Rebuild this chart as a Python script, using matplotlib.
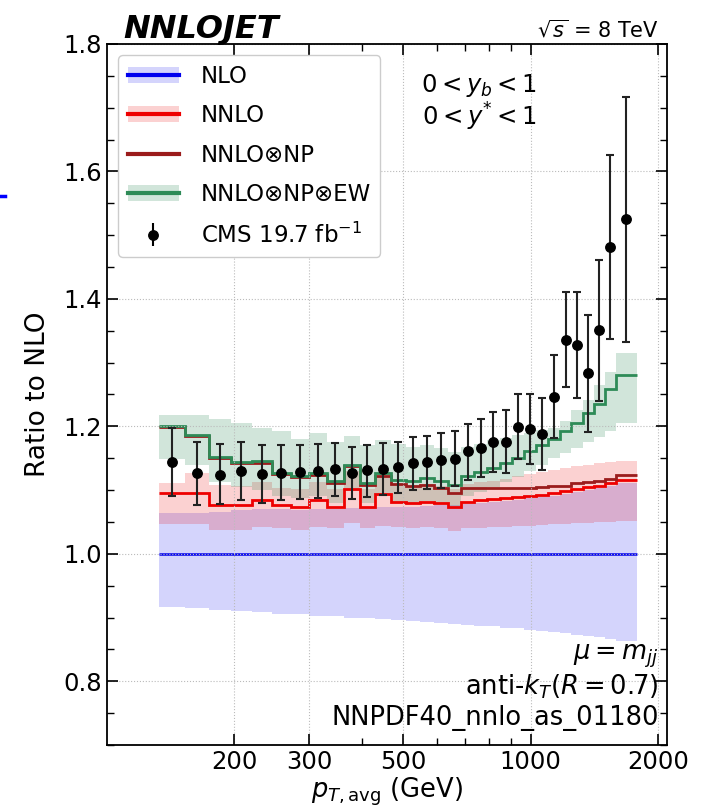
import numpy as np
import matplotlib
matplotlib.use('Agg')
import matplotlib.pyplot as plt
from matplotlib.lines import Line2D
from matplotlib.patches import Patch
from matplotlib.ticker import FixedLocator, NullFormatter, MultipleLocator

# pT,avg bin edges (GeV), 0 < yb < 1, 0 < y* < 1
edges = [133, 153, 174, 196, 220, 245, 272, 300, 330, 362, 395, 430, 468, 507, 548,
         592, 638, 686, 737, 790, 846, 905, 967, 1032, 1101, 1172, 1248, 1327, 1410,
         1497, 1588, 1784]

# NLO scale band (ratio to NLO central)
nlo_lo = [0.917, 0.915, 0.912, 0.910, 0.908, 0.906, 0.905, 0.903, 0.902, 0.900, 0.899,
          0.897, 0.896, 0.895, 0.893, 0.892, 0.890, 0.889, 0.887, 0.886, 0.884, 0.883,
          0.881, 0.879, 0.877, 0.875, 0.873, 0.871, 0.869, 0.866, 0.863]
nlo_hi = [1.064, 1.064, 1.066, 1.068, 1.070, 1.070, 1.069, 1.070, 1.071, 1.072, 1.072,
          1.073, 1.074, 1.074, 1.075, 1.076, 1.077, 1.078, 1.079, 1.081, 1.083, 1.085,
          1.087, 1.089, 1.091, 1.094, 1.097, 1.100, 1.103, 1.107, 1.111]

# NNLO
nnlo = [1.095, 1.096, 1.076, 1.076, 1.085, 1.076, 1.074, 1.084, 1.073, 1.102, 1.074,
        1.094, 1.082, 1.079, 1.082, 1.079, 1.073, 1.082, 1.084, 1.086, 1.088, 1.089,
        1.090, 1.093, 1.096, 1.098, 1.102, 1.105, 1.107, 1.111, 1.116]
nnlo_lo = [1.046, 1.046, 1.038, 1.038, 1.042, 1.040, 1.038, 1.042, 1.040, 1.048, 1.040,
           1.044, 1.042, 1.040, 1.042, 1.040, 1.036, 1.040, 1.041, 1.042, 1.042, 1.043,
           1.044, 1.045, 1.046, 1.047, 1.048, 1.049, 1.050, 1.050, 1.051]
nnlo_hi = [1.111, 1.126, 1.108, 1.106, 1.113, 1.104, 1.102, 1.112, 1.101, 1.130, 1.102,
           1.121, 1.110, 1.107, 1.110, 1.107, 1.101, 1.110, 1.112, 1.114, 1.117, 1.122,
           1.125, 1.128, 1.132, 1.135, 1.137, 1.140, 1.142, 1.144, 1.145]

# NNLO x NP
nnlo_np = [1.199, 1.185, 1.150, 1.142, 1.143, 1.125, 1.120, 1.123, 1.111, 1.137, 1.108,
           1.122, 1.110, 1.106, 1.108, 1.103, 1.096, 1.104, 1.104, 1.104, 1.104, 1.104,
           1.104, 1.105, 1.106, 1.107, 1.111, 1.113, 1.114, 1.118, 1.123]

# NNLO x NP x EW
nnlo_np_ew = [1.201, 1.187, 1.152, 1.144, 1.145, 1.127, 1.122, 1.126, 1.114, 1.140, 1.111,
              1.126, 1.116, 1.114, 1.119, 1.114, 1.108, 1.122, 1.128, 1.135, 1.143, 1.150,
              1.161, 1.171, 1.180, 1.192, 1.205, 1.221, 1.235, 1.258, 1.281]
ew_lo = [1.148, 1.140, 1.112, 1.105, 1.100, 1.090, 1.087, 1.090, 1.080, 1.100, 1.080,
         1.090, 1.082, 1.080, 1.083, 1.080, 1.075, 1.090, 1.097, 1.105, 1.113, 1.120,
         1.130, 1.140, 1.150, 1.158, 1.166, 1.175, 1.183, 1.192, 1.205]
ew_hi = [1.218, 1.218, 1.212, 1.205, 1.197, 1.192, 1.180, 1.190, 1.175, 1.185, 1.170,
         1.178, 1.172, 1.168, 1.170, 1.166, 1.160, 1.168, 1.172, 1.178, 1.182, 1.186,
         1.190, 1.194, 1.197, 1.208, 1.226, 1.242, 1.265, 1.286, 1.315]

# CMS 19.7 fb^-1 data (ratio to NLO) with total uncertainty
data_val = [1.144, 1.127, 1.124, 1.130, 1.125, 1.127, 1.128, 1.130, 1.133, 1.127, 1.131,
            1.133, 1.136, 1.142, 1.144, 1.147, 1.149, 1.161, 1.166, 1.175, 1.175, 1.199,
            1.196, 1.188, 1.246, 1.336, 1.328, 1.283, 1.351, 1.481, 1.525]
data_lo = [1.090, 1.077, 1.078, 1.085, 1.080, 1.084, 1.086, 1.088, 1.091, 1.086, 1.089,
           1.093, 1.095, 1.100, 1.102, 1.104, 1.106, 1.116, 1.120, 1.128, 1.126, 1.148,
           1.141, 1.131, 1.182, 1.261, 1.245, 1.191, 1.239, 1.337, 1.333]
data_hi = [1.197, 1.176, 1.172, 1.175, 1.170, 1.170, 1.170, 1.172, 1.174, 1.168, 1.171,
           1.174, 1.176, 1.184, 1.185, 1.190, 1.192, 1.204, 1.212, 1.223, 1.225, 1.251,
           1.250, 1.245, 1.312, 1.411, 1.411, 1.375, 1.461, 1.626, 1.717]

x_ticks = [200, 300, 500, 1000, 2000]
x_minor = [400, 600, 700, 800, 900]

C_NLO = '#0000ee'
C_NNLO = '#ee0000'
C_NP = '#9b1c1c'
C_EW = '#2e8b57'

plt.rcParams['font.family'] = 'DejaVu Sans'
plt.rcParams['mathtext.fontset'] = 'dejavusans'

fig = plt.figure(figsize=(7.03, 8.11), dpi=100)
ax = fig.add_axes([0.1522, 0.0814, 0.7966, 0.8644])

edges_a = np.array(edges, dtype=float)
centers = np.sqrt(edges_a[:-1] * edges_a[1:])
ones = np.ones(len(nnlo))

# bands
ax.stairs(nlo_hi, edges, baseline=nlo_lo, fill=True, color=C_NLO, alpha=0.17, lw=0)
ax.stairs(nnlo_hi, edges, baseline=nnlo_lo, fill=True, color=C_NNLO, alpha=0.18, lw=0)
ax.stairs(ew_hi, edges, baseline=ew_lo, fill=True, color=C_EW, alpha=0.22, lw=0)

# central lines
ax.stairs(ones, edges, color=C_NLO, lw=1.8, baseline=None)
ax.stairs(nnlo, edges, color=C_NNLO, lw=2.0, baseline=None)
ax.stairs(nnlo_np, edges, color=C_NP, lw=2.0, baseline=None)
ax.stairs(nnlo_np_ew, edges, color=C_EW, lw=2.0, baseline=None)

# data
d = np.array(data_val)
yerr = [d - np.array(data_lo), np.array(data_hi) - d]
ax.errorbar(centers, d, yerr=yerr, fmt='o', color='black', ecolor='#222222',
            markersize=6.8, elinewidth=1.5, capsize=3, capthick=1.5, zorder=5)

ax.set_xscale('log')
ax.set_xlim(100, 2100)
ax.set_ylim(0.7, 1.8)
ax.xaxis.set_major_locator(FixedLocator(x_ticks))
ax.xaxis.set_minor_locator(FixedLocator(x_minor))
ax.xaxis.set_minor_formatter(NullFormatter())
ax.set_xticklabels([str(t) for t in x_ticks])
ax.yaxis.set_major_locator(MultipleLocator(0.2))
ax.yaxis.set_minor_locator(MultipleLocator(0.05))
ax.tick_params(which='both', direction='in', top=True, right=True, labelsize=17.5)
ax.tick_params(which='major', length=8, width=1.2)
ax.tick_params(which='minor', length=5, width=1.0)
ax.grid(True, which='major', linestyle=':', color='#bbbbbb', lw=0.8)
for s in ax.spines.values():
    s.set_linewidth(1.3)

ax.set_xlabel(r'$p_{T,\mathrm{avg}}$ (GeV)', fontsize=18.5, labelpad=1)
ax.set_ylabel('Ratio to NLO', fontsize=19, labelpad=9)

# header texts
ax.text(0.03, 1.009, 'NNLOJET', transform=ax.transAxes, fontsize=23,
        fontweight='bold', fontstyle='italic', ha='left', va='baseline')
ax.text(0.985, 1.009, r'$\sqrt{s}$ = 8 TeV', transform=ax.transAxes, fontsize=15,
        ha='right', va='baseline')
ax.text(0.665, 0.941, r'$0 < y_b < 1$', transform=ax.transAxes, fontsize=17.5,
        ha='center', va='center')
ax.text(0.665, 0.896, r'$0 < y^{*} < 1$', transform=ax.transAxes, fontsize=17.5,
        ha='center', va='center')
ax.text(0.985, 0.127, r'$\mu = m_{jj}$', transform=ax.transAxes, fontsize=18.5,
        ha='right', va='center')
ax.text(0.985, 0.083, r'anti-$k_T(R = 0.7)$', transform=ax.transAxes, fontsize=18.5,
        ha='right', va='center')
ax.text(0.985, 0.039, 'NNPDF40_nnlo_as_01180', transform=ax.transAxes, fontsize=18.5,
        ha='right', va='center')

# legend
h_nlo = (Patch(color=C_NLO, alpha=0.17, lw=0), Line2D([], [], color=C_NLO, lw=3))
h_nnlo = (Patch(color=C_NNLO, alpha=0.18, lw=0), Line2D([], [], color=C_NNLO, lw=3))
h_np = Line2D([], [], color=C_NP, lw=3)
h_ew = (Patch(color=C_EW, alpha=0.22, lw=0), Line2D([], [], color=C_EW, lw=3))
h_data = ax.errorbar([], [], yerr=[], fmt='o', color='black', markersize=6.8,
                     elinewidth=1.5, capsize=3, capthick=1.5)
leg = ax.legend([h_nlo, h_nnlo, h_np, h_ew, h_data],
                ['NLO', 'NNLO', 'NNLO\u2297NP', 'NNLO\u2297NP\u2297EW', r'CMS 19.7 fb$^{-1}$'],
                loc='upper left', fontsize=16.5, handlelength=2.25, handletextpad=0.95,
                labelspacing=0.72, borderaxespad=0.5, framealpha=1.0, fancybox=True)
leg.get_frame().set_edgecolor('#cccccc')

# stray mark at the left edge of the image
fig.add_artist(Line2D([0.0, 0.007], [1 - 196 / 811] * 2, color='blue', lw=2.5))

fig.savefig('out.png', dpi=100)
